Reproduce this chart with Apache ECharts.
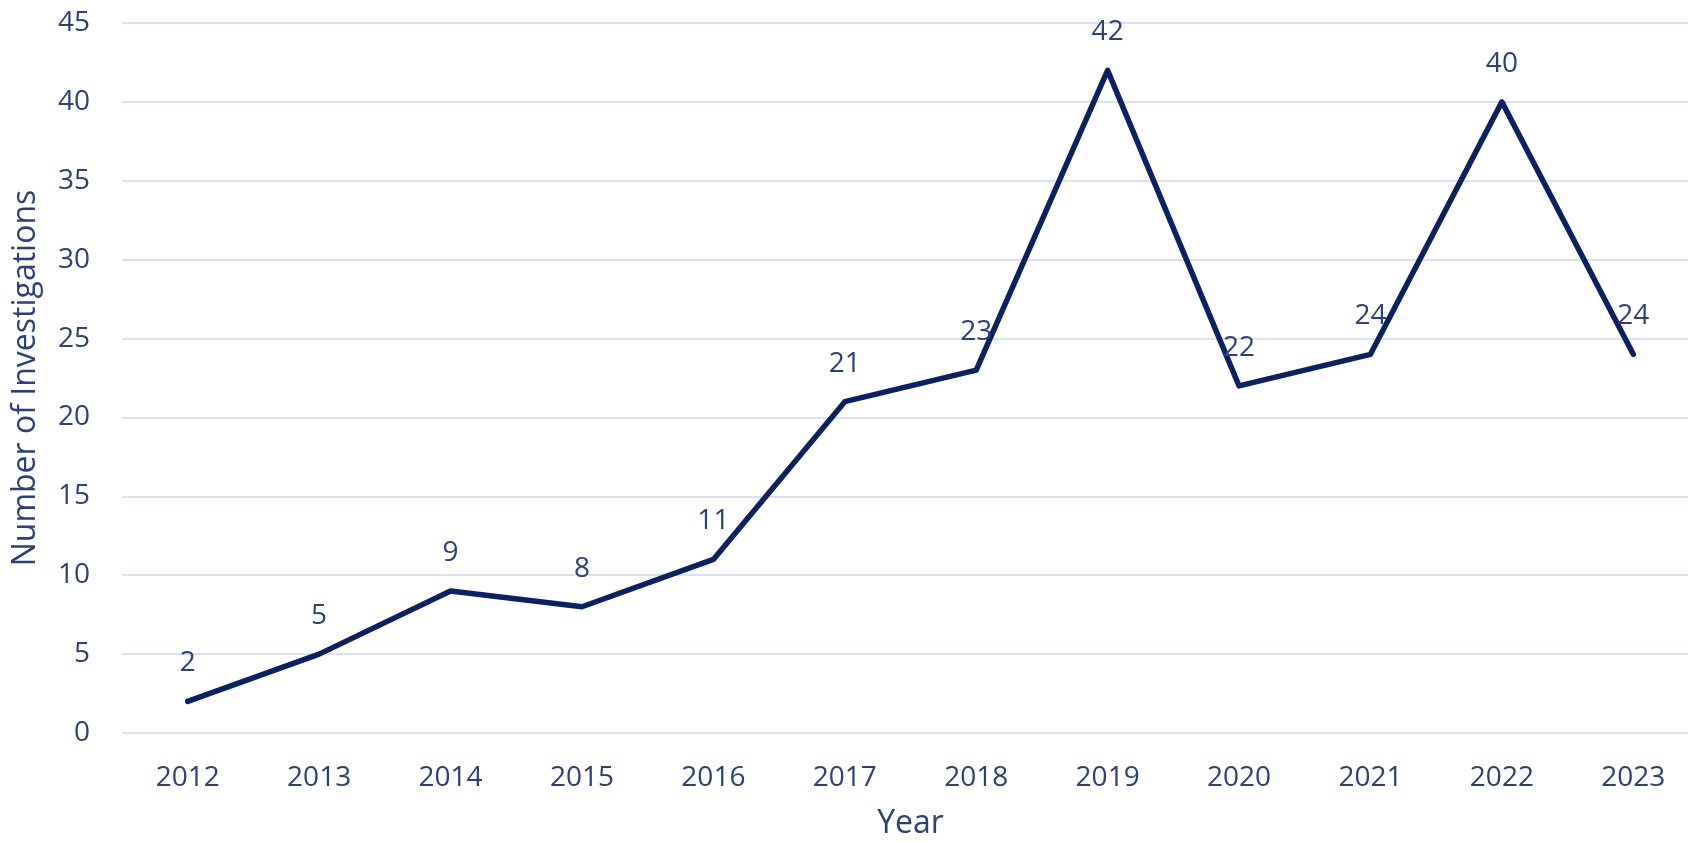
<!DOCTYPE html>
<html>
<head>
<meta charset="utf-8">
<script src="https://cdn.jsdelivr.net/npm/echarts@6/dist/echarts.min.js"></script>
<style>
html,body{margin:0;padding:0;background:#fff;overflow:hidden;}
#chart{width:1688px;height:842px;}
</style>
</head>
<body>
<div id="chart"></div>
<script>
const years = ['2012','2013','2014','2015','2016','2017','2018','2019','2020','2021','2022','2023'];
const investigations = [2,5,9,8,11,21,23,42,22,24,40,24];
const yTicks = {min:0, max:45, interval:5};

const textColor = '#2e4174';
const lineColor = '#0c2160';
const font = 'Open Sans';

const chart = echarts.init(document.getElementById('chart'));
chart.setOption({
  animation:false,
  backgroundColor:'#fff',
  grid:{left:122, top:23, width:1577, height:710, containLabel:false, outerBoundsMode:'none'},
  xAxis:{
    type:'category',
    data:years,
    boundaryGap:true,
    name:'Year',
    nameLocation:'middle',
    nameGap:75,
    nameTextStyle:{color:textColor, fontFamily:font, fontSize:32},
    axisLine:{show:false},
    axisTick:{show:false},
    axisLabel:{color:textColor, fontFamily:font, fontSize:28, margin:31}
  },
  yAxis:{
    type:'value',
    min:yTicks.min, max:yTicks.max, interval:yTicks.interval,
    name:'Number of Investigations',
    nameLocation:'middle',
    nameGap:80,
    nameTextStyle:{color:textColor, fontFamily:font, fontSize:32},
    axisLine:{show:false},
    axisTick:{show:false},
    axisLabel:{color:textColor, fontFamily:font, fontSize:28, margin:32},
    splitLine:{lineStyle:{color:'#d9e1f2', width:2}}
  },
  series:[{
    type:'line',
    data:investigations,
    showSymbol:true,
    symbol:'circle',
    symbolSize:0.1,
    lineStyle:{color:lineColor, width:5.5, cap:'round', join:'round'},
    itemStyle:{color:lineColor},
    label:{show:true, position:'top', distance:24, color:textColor, fontFamily:font, fontSize:28}
  }]
});
</script>
</body>
</html>
